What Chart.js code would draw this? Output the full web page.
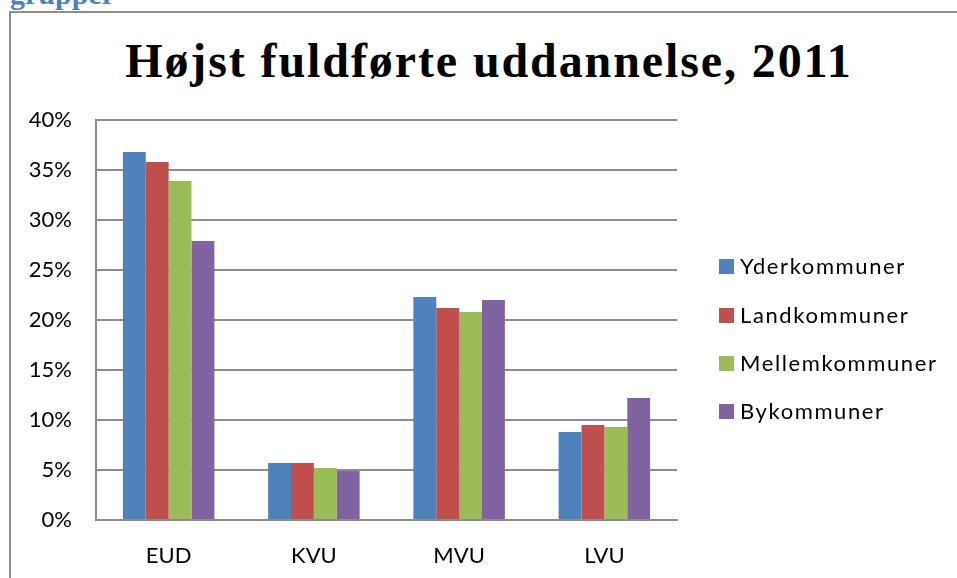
<!DOCTYPE html>
<html lang="da">
<head>
<meta charset="utf-8">
<title>Højst fuldførte uddannelse, 2011</title>
<script src="https://cdn.jsdelivr.net/npm/chart.js@4.4.1/dist/chart.umd.min.js"></script>
<style>
    html, body { margin: 0; padding: 0; background: #fff; overflow: hidden; }
    body { width: 957px; height: 578px; position: relative; }
    .doc-heading {
        position: absolute; left: 10px; top: -21px;
        font: bold 30px/30px "Liberation Serif", serif;
        color: #4F81BD;
    }
    .chart-frame {
        position: absolute; left: 9px; top: 11px;
        width: 1000px; height: 620px;
        border: 2px solid #8c8c8c;
    }
    .chart-title {
        position: absolute; left: 0; width: 978px; top: 33px;
        text-align: center;
        font: bold 48px/56px "Liberation Serif", serif;
        letter-spacing: 1.9px;
        color: #000;
        white-space: nowrap;
    }
    #chartCanvas { position: absolute; left: 0; top: 0; }
    .legend { position: absolute; left: 719px; top: 0; font: 22px "Lato", sans-serif; color: #000; letter-spacing: 1.6px; }
    .legend-item { position: absolute; left: 0; white-space: nowrap; height: 26px; line-height: 26px; }
    .legend-swatch { display: inline-block; width: 15px; height: 15px; vertical-align: middle; margin-right: 6px; position: relative; top: -2px; }
</style>
</head>
<body>
<div class="doc-heading">grupper</div>
<div class="chart-frame"></div>
<div class="chart-title">Højst fuldførte uddannelse, 2011</div>
<canvas id="chartCanvas" width="957" height="578"></canvas>
<div class="legend" id="legend"></div>

<script>
// ── Data ─────────────────────────────────────────────────────

const categories  = ['EUD', 'KVU', 'MVU', 'LVU'];
const seriesNames = ['Yderkommuner', 'Landkommuner', 'Mellemkommuner', 'Bykommuner'];
const yderkommuner   = [36.8, 5.7, 22.3, 8.8];
const landkommuner   = [35.8, 5.7, 21.2, 9.5];
const mellemkommuner = [33.9, 5.2, 20.8, 9.3];
const bykommuner     = [27.9, 4.9, 22.0, 12.2];
const yTicks = [0, 5, 10, 15, 20, 25, 30, 35, 40];

const colors = ['#4F81BD', '#C0504D', '#9BBB59', '#8064A2'];
const gridColor = '#8c8c8c';
const font = { family: 'Lato', size: 22 };

document.addEventListener('DOMContentLoaded', () => {
    const chart = renderChart(document.getElementById('chartCanvas'));
    renderLegend(chart);
});

function renderChart(canvas) {
    const values = [yderkommuner, landkommuner, mellemkommuner, bykommuner];

    return new Chart(canvas, {
        type: 'bar',
        data: {
            labels: categories,
            datasets: seriesNames.map((name, i) => ({
                label: name,
                data: values[i],
                backgroundColor: colors[i],
                borderWidth: 0,
                categoryPercentage: 0.63,
                barPercentage: 1.0,
            })),
        },
        options: {
            responsive: false,
            animation: false,
            layout: { padding: { left: 0, top: 120, right: 280, bottom: 0 } },
            plugins: {
                legend: { display: false },
                title: { display: false },
                tooltip: { enabled: false },
            },
            scales: {
                x: {
                    grid: { display: false, drawTicks: false },
                    border: { display: true, color: gridColor, width: 2 },
                    ticks: { font, color: '#000', padding: 23, maxRotation: 0 },
                    afterFit: s => { s.height = 58; },
                },
                y: {
                    min: 0,
                    max: 40,
                    afterBuildTicks: s => { s.ticks = yTicks.map(v => ({ value: v })); },
                    grid: { color: gridColor, lineWidth: 2, drawTicks: false },
                    border: { display: true, color: gridColor, width: 2 },
                    ticks: { font, color: '#000', padding: 24, callback: v => v + '%' },
                    afterFit: s => { s.width = 96; },
                },
            },
        },
    });
}

// ── Llegenda ─────────────────────────────────────────────────

function renderLegend(chart) {
    const legend = document.getElementById('legend');
    const rowCenters = [266, 315, 363, 411];

    chart.data.datasets.forEach((ds, i) => {
        const row = document.createElement('div');
        row.className = 'legend-item';
        row.style.top = (rowCenters[i] - 13) + 'px';
        row.innerHTML = `<span class="legend-swatch" style="background:${ds.backgroundColor}"></span>${ds.label}`;
        legend.appendChild(row);
    });
}
</script>
</body>
</html>
